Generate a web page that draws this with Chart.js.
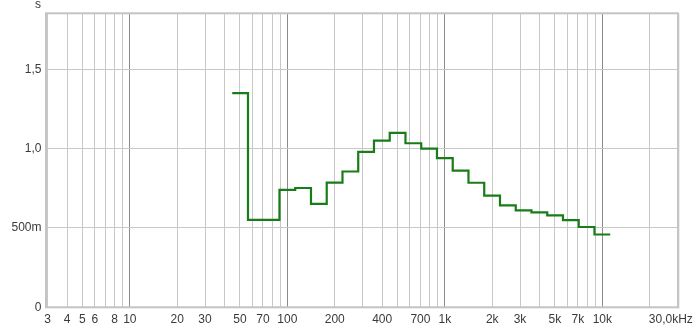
<!DOCTYPE html>
<html>
<head>
<meta charset="utf-8">
<script src="https://cdn.jsdelivr.net/npm/chart.js@4.4.1/dist/chart.umd.min.js"></script>
<style>
html,body{margin:0;padding:0;background:#fff;}
#wrap{width:700px;height:328px;position:relative;}
</style>
</head>
<body>
<div id="wrap"><canvas id="c" width="700" height="328"></canvas></div>
<script>
// Third-octave band centre frequencies (Hz)
const bandCenters = [50,63,80,100,125,160,200,250,315,400,500,630,800,1000,1250,1600,2000,2500,3150,4000,5000,6300,8000,10000];
// Reverberation time per band (s)
const rtValues = [1.35,0.551,0.551,0.740,0.752,0.652,0.786,0.856,0.980,1.051,1.099,1.034,1.000,0.940,0.862,0.785,0.704,0.643,0.611,0.598,0.580,0.550,0.506,0.459];
// Labelled x ticks
const xTickValues = [3,4,5,6,8,10,20,30,50,70,100,200,400,700,1000,2000,3000,5000,7000,10000,30000];
const xTickLabels = ['3','4','5','6','8','10','20','30','50','70','100','200','400','700','1k','2k','3k','5k','7k','10k','30,0kHz    '];
// y ticks
const yTickValues = [0,0.5,1.0,1.5];
const yTickLabels = ['0','500m','1,0','1,5'];

function bandEdges(c){
  const n = Math.round(10*Math.log10(c));
  return [Math.pow(10,(n-0.5)/10), Math.pow(10,(n+0.5)/10)];
}
const stepPts = bandCenters.map((c,i)=>({x:bandEdges(c)[0], y:rtValues[i]}));
stepPts.push({x:bandEdges(bandCenters[bandCenters.length-1])[1], y:rtValues[rtValues.length-1]});

const gridVals = [];
for (let d=1; d<=10000; d*=10){
  for (let m=1; m<=9; m++){
    const v = m*d;
    if (v>=3 && v<=30000) gridVals.push(v);
  }
}

const labelMap = {};
xTickValues.forEach((v,i)=>labelMap[v]=xTickLabels[i]);
const yLabelMap = {};
yTickValues.forEach((v,i)=>yLabelMap[v]=yTickLabels[i]);

const FONT = '"Liberation Sans", Arial, sans-serif';

const framePlugin = {
  id:'frame',
  beforeDatasetsDraw(chart){
    const {ctx, chartArea:a} = chart;
    ctx.save();
    ctx.strokeStyle = '#c4c4c4';
    ctx.lineWidth = 2;
    ctx.strokeRect(a.left-1.5, a.top-0.5, a.right-a.left+2, a.bottom-a.top+0.5);
    ctx.strokeStyle = 'rgba(200,200,200,0.6)';
    ctx.lineWidth = 1;
    ctx.beginPath();
    ctx.moveTo(a.right+1.5, a.top); ctx.lineTo(a.right+1.5, a.bottom+1.5);
    ctx.stroke();
    ctx.restore();
  },
  afterDraw(chart){
    const {ctx} = chart;
    ctx.save();
    ctx.fillStyle = '#3a3a3a';
    ctx.font = '12px ' + FONT;
    ctx.textAlign = 'center';
    ctx.textBaseline = 'middle';
    ctx.fillText('s', 38, 5);
    ctx.restore();
  }
};

new Chart(document.getElementById('c'), {
  type:'line',
  data:{datasets:[{
    data: stepPts,
    stepped: 'before',
    borderColor:'#187c18',
    borderWidth:2.2,
    pointRadius:0,
    fill:false,
    tension:0
  }]},
  options:{
    responsive:false,
    animation:false,
    events:[],
    layout:{padding:{left:0,right:22.5,top:13.8,bottom:0}},
    plugins:{legend:{display:false},tooltip:{enabled:false}},
    scales:{
      x:{
        type:'logarithmic',
        min:3, max:30000,
        border:{display:false},
        afterBuildTicks(scale){ scale.ticks = gridVals.map(v=>({value:v})); },
        afterFit(scale){ scale.height = 20.7; scale.paddingLeft = 0; scale.paddingRight = 0; },
        grid:{
          drawTicks:false,
          lineWidth:1,
          color:(ctx)=>{
            const v = ctx.tick && ctx.tick.value;
            if (v===10||v===100||v===1000||v===10000) return '#8c8c8c';
            return '#c8c8c8';
          }
        },
        ticks:{
          autoSkip:false,
          maxRotation:0,
          padding:5,
          color:'#3a3a3a',
          font:{family:FONT, size:12},
          callback:(v)=> labelMap[v] !== undefined ? labelMap[v] : ''
        }
      },
      y:{
        type:'linear',
        min:0, max:1.85,
        border:{display:false},
        afterBuildTicks(scale){ scale.ticks = yTickValues.map(v=>({value:v})); },
        afterFit(scale){ scale.width = 47.5; scale.paddingTop = 0; scale.paddingBottom = 0; },
        grid:{drawTicks:false, color:'#c8c8c8', lineWidth:1},
        ticks:{
          padding:6,
          color:'#3a3a3a',
          font:{family:FONT, size:12},
          callback:(v)=> yLabelMap[v] !== undefined ? yLabelMap[v] : ''
        }
      }
    }
  },
  plugins:[framePlugin]
});
</script>
</body>
</html>
